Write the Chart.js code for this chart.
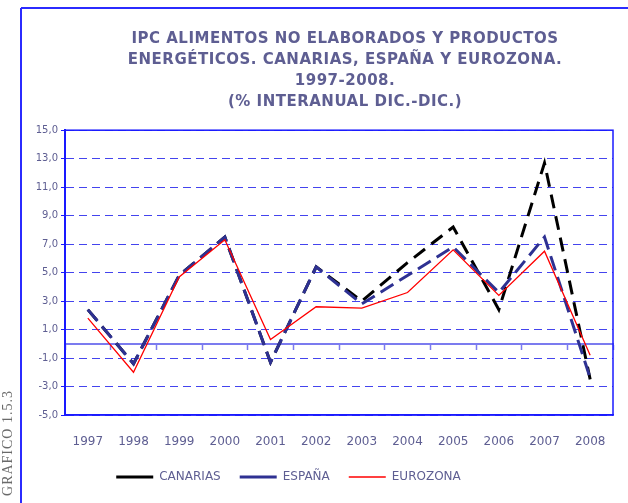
<!DOCTYPE html>
<html>
<head>
<meta charset="utf-8">
<script src="https://cdn.jsdelivr.net/npm/chart.js@4"></script>
<style>
  body { margin: 0; background: #fff; }
  canvas { display: block; }
</style>
</head>
<body>
<canvas id="grafico" width="628" height="503"></canvas>
<script>
// Datos (% interanual dic.-dic.)
var anios = ['1997', '1998', '1999', '2000', '2001', '2002', '2003', '2004', '2005', '2006', '2007', '2008'];
var canarias = [2.4, -1.4, 4.8, 7.5, -1.3, 5.4, 3.0, 5.7, 8.2, 2.4, 12.7, -2.5];
var espana   = [2.4, -1.4, 4.8, 7.5, -1.3, 5.4, 2.8, 4.8, 6.8, 3.6, 7.5, -2.4];
var eurozona = [1.8, -2.0, 4.7, 7.3, 0.3, 2.6, 2.5, 3.6, 6.6, 3.4, 6.5, -0.8];
var ejeY = { min: -5, max: 15, paso: 2 };

var colorTexto = '#5e5e92';
var azul = '#1a1aff';

// Marco, líneas del documento y texto vertical
var decoracion = {
    id: 'decoracion',
    afterLayout: function (chart) {
        // mover la leyenda un poco a la izquierda, como en el original
        chart.legend.left -= 18;
        chart.legend.right -= 18;
    },
    beforeDraw: function (chart) {
        var c = chart.ctx;
        c.save();
        c.strokeStyle = '#2b2bff';
        c.lineWidth = 2;
        c.beginPath();
        c.moveTo(21, 8); c.lineTo(21, 503);
        c.moveTo(21, 8); c.lineTo(628, 8);
        c.stroke();
        c.translate(8, 443);
        c.rotate(-Math.PI / 2);
        c.fillStyle = '#6a6a6a';
        c.font = '14px "Liberation Serif"';
        c.letterSpacing = '1px';
        c.textAlign = 'center';
        c.textBaseline = 'middle';
        c.fillText('GRAFICO 1.5.3', 0, 0);
        c.restore();
    },
    beforeDatasetsDraw: function (chart) {
        var a = chart.chartArea, c = chart.ctx;
        c.save();
        c.strokeStyle = azul;
        c.lineWidth = 1.5;
        c.strokeRect(a.left, a.top, a.right - a.left, a.bottom - a.top);
        c.restore();
    }
};

var ctx = document.getElementById('grafico').getContext('2d');
var chart = new Chart(ctx, {
    type: 'line',
    data: {
        labels: anios,
        datasets: [{
            label: 'CANARIAS',
            data: canarias,
            borderColor: '#000000',
            backgroundColor: '#000000',
            borderWidth: 3,
            borderDash: [14, 8],
            order: 3
        }, {
            label: 'ESPAÑA',
            data: espana,
            borderColor: '#2e3192',
            backgroundColor: '#2e3192',
            borderWidth: 3,
            borderDash: [15, 7],
            order: 2
        }, {
            label: 'EUROZONA',
            data: eurozona,
            borderColor: '#ff0000',
            backgroundColor: '#ff0000',
            borderWidth: 1.3,
            order: 1
        }]
    },
    options: {
        responsive: false,
        animation: false,
        layout: { padding: { left: 0, right: 15, top: 0, bottom: 10 } },
        elements: {
            line: { tension: 0, fill: false },
            point: { radius: 0, hoverRadius: 0, pointStyle: 'line' }
        },
        scales: {
            x: {
                offset: true,
                grid: { display: false },
                border: { display: true, color: azul, width: 1.5 },
                ticks: { color: colorTexto, font: { family: 'DejaVu Sans', size: 12 }, padding: 12, maxRotation: 0 },
                afterFit: function (s) { s.height = 37; }
            },
            x2: {
                type: 'category',
                position: { y: 0 },
                offset: true,
                ticks: { display: false },
                grid: { offset: true, drawOnChartArea: false, drawTicks: true, tickLength: 5, tickColor: '#7b7bef', tickWidth: 1.5 },
                border: { display: true, color: '#7b7bef', width: 2 }
            },
            y: {
                min: ejeY.min,
                max: ejeY.max,
                ticks: {
                    stepSize: ejeY.paso,
                    color: colorTexto,
                    font: { family: 'DejaVu Sans', size: 10 },
                    padding: 3,
                    callback: function (v) { return v.toFixed(1).replace('.', ','); }
                },
                grid: { color: '#4444ee', lineWidth: 1, drawTicks: true, tickLength: 4, tickColor: azul },
                border: { display: true, color: azul, width: 2, dash: [8, 5] },
                afterFit: function (s) { s.width = 65; }
            }
        },
        plugins: {
            title: {
                display: true,
                fullSize: false,
                text: [
                    'IPC ALIMENTOS NO ELABORADOS Y PRODUCTOS',
                    'ENERGÉTICOS. CANARIAS, ESPAÑA Y EUROZONA.',
                    '1997-2008.',
                    '(% INTERANUAL DIC.-DIC.)'
                ],
                color: colorTexto,
                font: { family: 'DejaVu Sans', size: 15, weight: 'bold', lineHeight: 1.42 },
                padding: { top: 28, bottom: 17 }
            },
            legend: {
                position: 'bottom',
                reverse: true,
                labels: {
                    usePointStyle: true,
                    pointStyle: 'line',
                    pointStyleWidth: 37,
                    color: colorTexto,
                    font: { family: 'DejaVu Sans', size: 12 },
                    padding: 19
                }
            },
            tooltip: { enabled: false }
        }
    },
    plugins: [decoracion]
});

// el título lleva algo más de espacio entre letras y va un poco a la derecha
var dibujarTitulo = chart.titleBlock.draw;
chart.titleBlock.draw = function () {
    this.ctx.save();
    this.ctx.translate(6, 0);
    this.ctx.letterSpacing = '0.5px';
    dibujarTitulo.apply(this, arguments);
    this.ctx.restore();
};
chart.draw();
</script>
</body>
</html>
